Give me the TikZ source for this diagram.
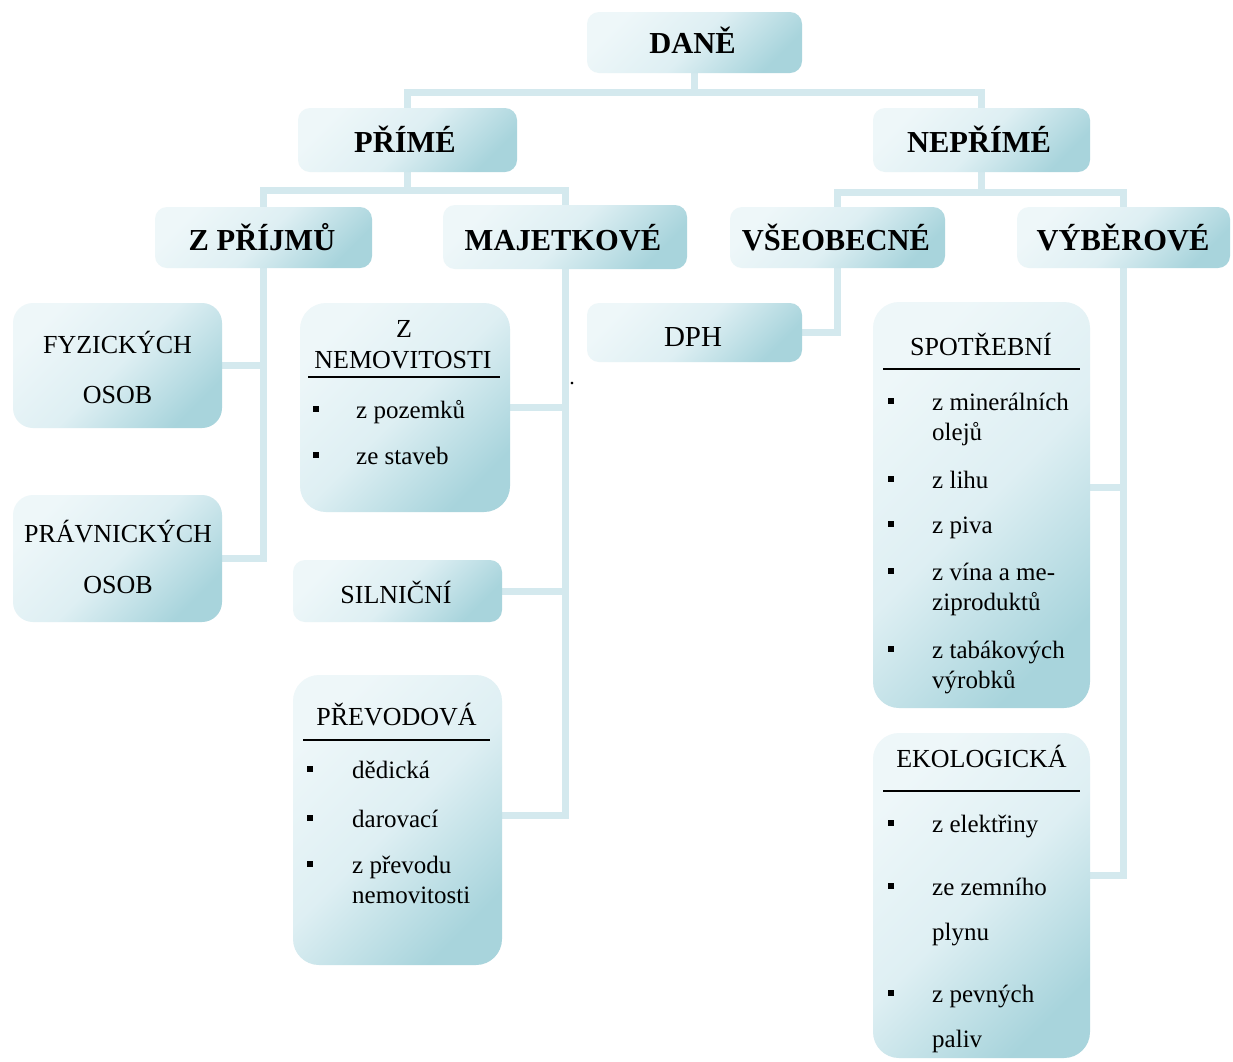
\documentclass[tikz,border=0pt]{standalone}
\usepackage{fontspec}
\setmainfont{Liberation Serif}
\usetikzlibrary{backgrounds}
\definecolor{bxA}{RGB}{238,247,249}
\definecolor{bxM}{RGB}{222,239,243}
\definecolor{bxB}{RGB}{168,212,220}
\definecolor{connC}{RGB}{212,233,238}
\begin{document}
\begin{tikzpicture}[x=1pt,y=-1pt,
  box/.style={rectangle, rounded corners=12pt, top color=bxA, bottom color=bxB, middle color=bxM, shading angle=45, draw=none, inner sep=0pt},
  tallbox/.style={box, rounded corners=26pt},
  midbox/.style={box, rounded corners=20pt},
  conn/.style={draw=connC, line width=7pt},
  hd/.style={anchor=base, inner sep=0pt, font=\fontsize{30.5}{36}\selectfont\bfseries},
  tt/.style={anchor=base, inner sep=0pt, font=\fontsize{26}{30}\selectfont},
  it/.style={anchor=base west, inner sep=0pt, font=\fontsize{25}{30}\selectfont},
  bul/.style={fill=black, minimum size=6pt, inner sep=0pt, draw=none},
  rulel/.style={draw=black, line width=1.5pt}
]
\useasboundingbox (0,0) rectangle (1233,1061);
% boxes
\node[box, minimum width=215pt, minimum height=61pt] (dane) at (694.5,42.5) {};
\node[box, minimum width=219pt, minimum height=64pt] (prime) at (407.5,140) {};
\node[box, minimum width=217pt, minimum height=64pt] (neprime) at (981.5,140) {};
\node[box, minimum width=217pt, minimum height=61pt] (zprijmu) at (263.5,237.5) {};
\node[box, minimum width=244pt, minimum height=64pt] (majet) at (565,237) {};
\node[box, minimum width=215pt, minimum height=61pt] (vseob) at (837.5,237.5) {};
\node[box, minimum width=213pt, minimum height=61pt] (vyber) at (1123.5,237.5) {};
\node[box, minimum width=215pt, minimum height=59pt] (dph) at (694.5,332.5) {};
\node[midbox, minimum width=209pt, minimum height=125pt] (fyz) at (117.5,365.5) {};
\node[midbox, minimum width=209pt, minimum height=127pt] (prav) at (117.5,558.5) {};
\node[tallbox, minimum width=210pt, minimum height=209pt] (znem) at (405,407.5) {};
\node[box, minimum width=209pt, minimum height=62pt] (siln) at (397.5,591) {};
\node[tallbox, minimum width=209pt, minimum height=290pt] (prev) at (397.5,820) {};
\node[tallbox, minimum width=217pt, minimum height=406pt] (spot) at (981.5,505) {};
\node[tallbox, minimum width=217pt, minimum height=325pt] (eko) at (981.5,895.5) {};
% connectors
\begin{scope}[on background layer]
\fill[white] (0,0) rectangle (1233,1061);
\draw[conn] (dane.south) -- ++(0,19) -| (prime.north);
\draw[conn] (dane.south) -- ++(0,19) -| (neprime.north);
\draw[conn] (prime.south) -- ++(0,18) -| (zprijmu.north);
\draw[conn] (prime.south) -- ++(0,18) -| (majet.north);
\draw[conn] (neprime.south) -- ++(0,20) -| (vseob.north);
\draw[conn] (neprime.south) -- ++(0,20) -| (vyber.north);
\draw[conn] (zprijmu.south) |- (fyz.east);
\draw[conn] (zprijmu.south) |- (prav.east);
\draw[conn] (majet.south) |- (znem.east);
\draw[conn] (majet.south) |- (siln.east);
\draw[conn] (majet.south) |- ([yshift=5pt]prev.east);
\draw[conn] (vseob.south) |- (dph.east);
\draw[conn] (vyber.south) |- ([yshift=18pt]spot.east);
\draw[conn] (vyber.south) |- ([yshift=20pt]eko.east);
\end{scope}
% headings
\node[hd] (tdane) at (692.5,53) {DANĚ};
\node[hd] (tprime) at (405,152) {PŘÍMÉ};
\node[hd] (tneprime) at (979,152) {NEPŘÍMÉ};
\node[hd] (tzprijmu) at (262,250) {Z PŘÍJMŮ};
\node[hd] (tmajet) at (563,250) {MAJETKOVÉ};
\node[hd] (tvseob) at (836,250) {VŠEOBECNÉ};
\node[hd] (tvyber) at (1123,250) {VÝBĚROVÉ};
% simple boxes
\node[tt, font=\fontsize{29}{34}\selectfont] (tdph) at (693,346) {DPH};
\node[tt] (tfyz1) at (117.5,353) {FYZICKÝCH};
\node[tt] (tfyz2) at (117.5,403) {OSOB};
\node[tt] (tprav1) at (118,542) {PRÁVNICKÝCH};
\node[tt] (tprav2) at (118,593) {OSOB};
\node[tt] (tsiln) at (396,603) {SILNIČNÍ};
% Z nemovitosti
\node[tt] (tznem1) at (404,337) {Z};
\node[tt] (tznem2) at (403,368) {NEMOVITOSTI};
\draw[rulel] (308,377) -- (500,377);
\node[bul] (bzn1) at (316,409) {};
\node[it] (izn1) at (356,418) {z pozemků};
\node[bul] (bzn2) at (316,455) {};
\node[it] (izn2) at (356,464) {ze staveb};
\node[anchor=base, inner sep=0pt, font=\fontsize{22}{26}\selectfont] (dot) at (572,384) {.};
% Prevodova
\node[tt] (tprev) at (396.5,725) {PŘEVODOVÁ};
\draw[rulel] (303,740) -- (490,740);
\node[bul] (bpr1) at (310,769) {};
\node[it] (ipr1) at (352,778) {dědická};
\node[bul] (bpr2) at (310,818) {};
\node[it] (ipr2) at (352,827) {darovací};
\node[bul] (bpr3) at (310,864) {};
\node[it] (ipr3) at (352,873) {z převodu};
\node[it] (ipr4) at (352,903) {nemovitosti};
% Spotrebni
\node[tt] (tspot) at (981,355) {SPOTŘEBNÍ};
\draw[rulel] (883,369) -- (1080,369);
\node[bul] (bsp1) at (891,401) {};
\node[it] (isp1) at (932,410) {z minerálních};
\node[it] (isp1b) at (932,440) {olejů};
\node[bul] (bsp2) at (891,479) {};
\node[it] (isp2) at (932,488) {z lihu};
\node[bul] (bsp3) at (891,524) {};
\node[it] (isp3) at (932,533) {z piva};
\node[bul] (bsp4) at (891,571) {};
\node[it] (isp4) at (932,580) {z vína a me-};
\node[it] (isp4b) at (932,610) {ziproduktů};
\node[bul] (bsp5) at (891,649) {};
\node[it] (isp5) at (932,658) {z tabákových};
\node[it] (isp5b) at (932,688) {výrobků};
% Ekologicka
\node[tt] (teko) at (981.5,767) {EKOLOGICKÁ};
\draw[rulel] (883,791) -- (1080,791);
\node[bul] (bek1) at (891,823) {};
\node[it] (iek1) at (932,832) {z elektřiny};
\node[bul] (bek2) at (891,886) {};
\node[it] (iek2) at (932,895) {ze zemního};
\node[it] (iek2b) at (932,940) {plynu};
\node[bul] (bek3) at (891,993) {};
\node[it] (iek3) at (932,1002) {z pevných};
\node[it] (iek3b) at (932,1047) {paliv};
\end{tikzpicture}
\end{document}
